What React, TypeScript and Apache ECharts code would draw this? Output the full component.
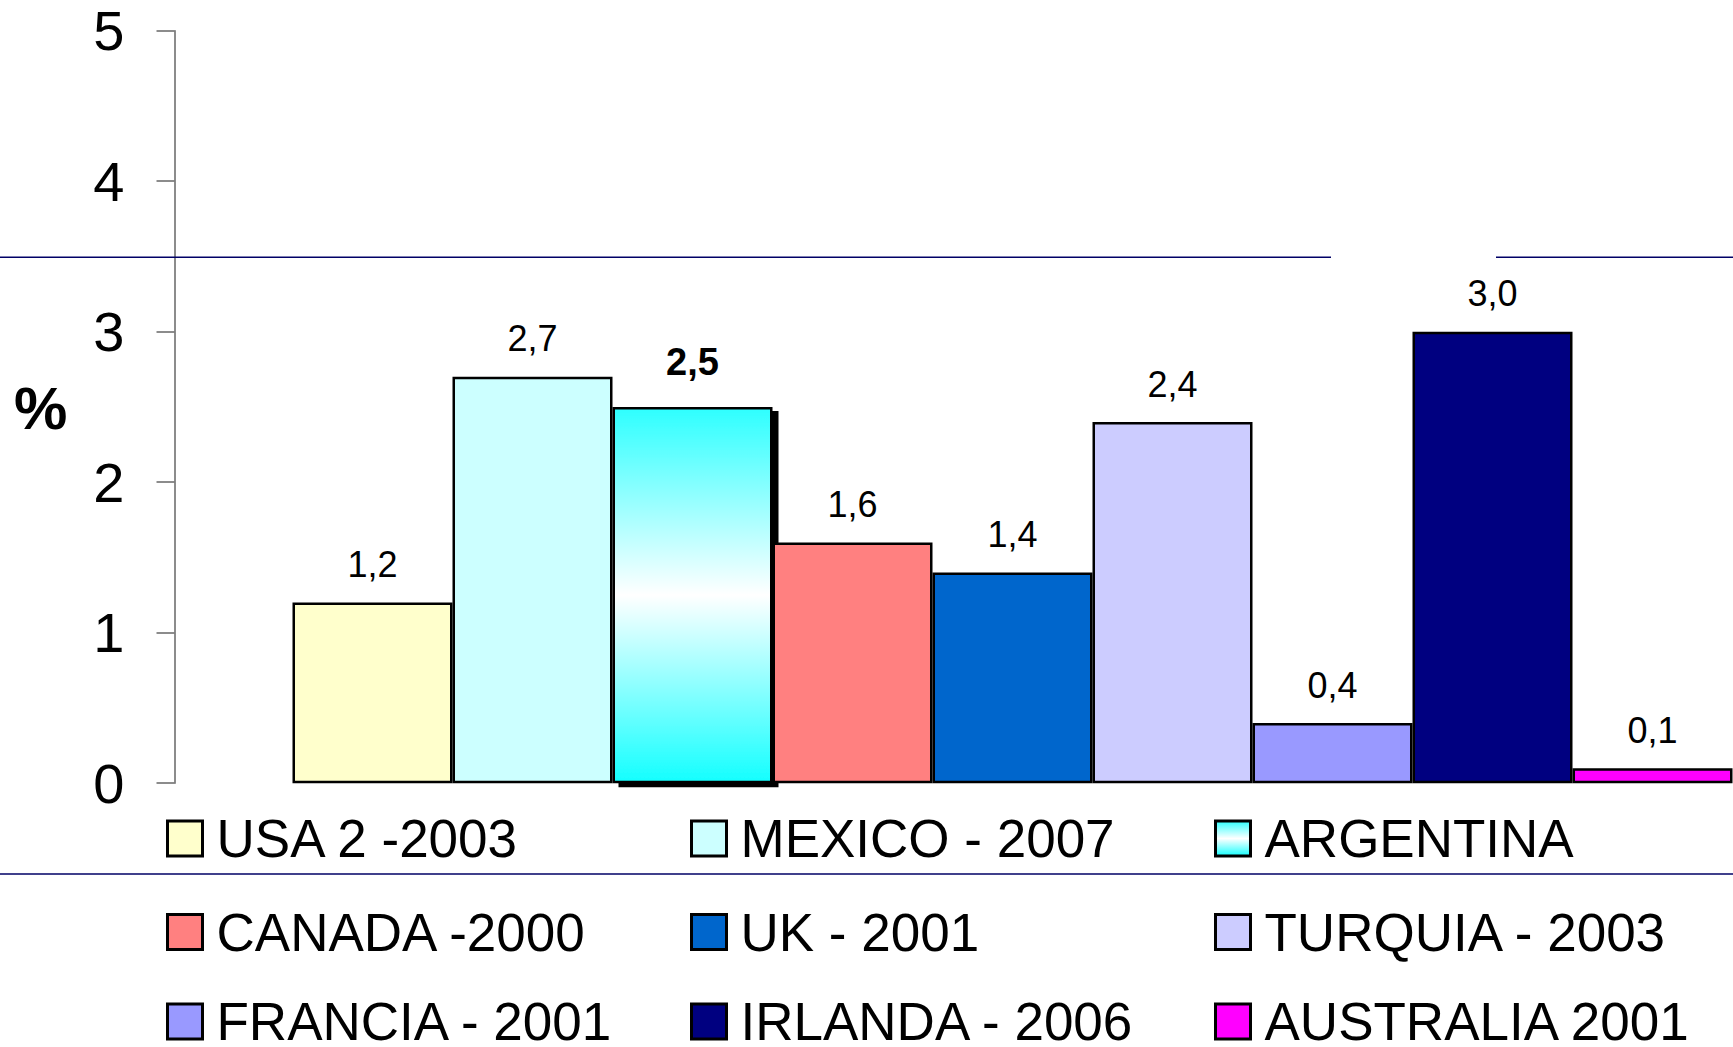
import React, { useEffect, useRef } from "react";
import * as echarts from "echarts";

const seriesNames = [
  "USA 2 -2003",
  "MEXICO - 2007",
  "ARGENTINA",
  "CANADA -2000",
  "UK - 2001",
  "TURQUIA - 2003",
  "FRANCIA - 2001",
  "IRLANDA - 2006",
  "AUSTRALIA 2001",
];
const seriesValues = [1.2, 2.7, 2.5, 1.6, 1.4, 2.4, 0.4, 3.0, 0.1];
const categories = ["Total"];
const yTicks = [0, 1, 2, 3, 4, 5];

const legendColumns = [
  ["USA 2 -2003", "CANADA -2000", "FRANCIA - 2001"],
  ["MEXICO - 2007", "UK - 2001", "IRLANDA - 2006"],
  ["ARGENTINA", "TURQUIA - 2003", "AUSTRALIA 2001"],
];

const argGradient = new echarts.graphic.LinearGradient(0, 0, 0, 1, [
  { offset: 0, color: "#2EFFFF" },
  { offset: 0.5, color: "#FFFFFF" },
  { offset: 1, color: "#14FFFF" },
]);

const colors: any[] = [
  "#FFFFCC",
  "#CCFFFF",
  argGradient,
  "#FF8080",
  "#0066CC",
  "#CCCCFF",
  "#9999FF",
  "#000080",
  "#FF00FF",
];

export default function App() {
  const ref = useRef<HTMLDivElement>(null);
  useEffect(() => {
    if (!ref.current) return;
    const chart = echarts.init(ref.current, null, { renderer: "svg" });
    const W = 1733;
    const axisX = 174.5;
    const gridLeft = 292;
    const gridTop = 30.7;
    const gridBottomY = 783.2;
    const barW = 160;

    const series = seriesNames.map((name, i) => {
      const isArg = name === "ARGENTINA";
      return {
        name,
        type: "bar",
        data: [seriesValues[i]],
        barWidth: barW,
        barGap: "0%",
        itemStyle: {
          color: colors[i],
          borderColor: "#000",
          borderWidth: 2.5,
          ...(isArg
            ? {
                shadowColor: "#000",
                shadowBlur: 0,
                shadowOffsetX: 6,
                shadowOffsetY: 4,
              }
            : {}),
        },
        label: {
          show: true,
          position: "top",
          distance: isArg ? 26 : 20,
          fontSize: isArg ? 38 : 36,
          lineHeight: isArg ? 38 : 36,
          color: "#000",
          fontWeight: isArg ? "bold" : "normal",
          formatter: (p: any) => Number(p.value).toFixed(1).replace(".", ","),
        },
        z: 3,
      };
    });

    const colX = [166, 690, 1214];
    const rowTop = [812, 905.5, 995];
    const legends: any[] = [];
    legendColumns.forEach((col, ci) => {
      col.forEach((name, ri) => {
        legends.push({
          orient: "vertical",
          left: colX[ci],
          top: rowTop[ri],
          height: 200,
          padding: 0,
          itemWidth: 35,
          itemHeight: 35,
          itemGap: 0,
          icon: "rect",
          data: [name],
          selectedMode: false,
          itemStyle: {
            borderColor: "#000",
            borderWidth: 3,
            shadowBlur: 0,
            shadowOffsetX: 0,
            shadowOffsetY: 0,
            shadowColor: "rgba(0,0,0,0)",
          },
          textStyle: {
            fontSize: 53,
            lineHeight: 40,
            color: "#000",
            fontFamily: "Liberation Sans",
            padding: [0, 0, 0, 9],
          },
        });
      });
    });

    chart.setOption({
      animation: false,
      backgroundColor: "#fff",
      textStyle: { fontFamily: "Liberation Sans" },
      grid: {
        left: gridLeft,
        top: gridTop,
        right: 0,
        height: gridBottomY - gridTop,
        containLabel: false,
      },
      xAxis: {
        type: "category",
        data: categories,
        show: false,
      },
      yAxis: {
        type: "value",
        min: yTicks[0],
        max: yTicks[yTicks.length - 1],
        interval: 1,
        offset: gridLeft - axisX,
        splitLine: { show: false },
        axisLine: { show: true, lineStyle: { color: "#666", width: 1.5 } },
        axisTick: { show: true, length: 18, lineStyle: { color: "#666", width: 1.5 } },
        axisLabel: {
          fontSize: 56,
          color: "#000",
          margin: 50,
          fontFamily: "Liberation Sans",
        },
      },
      legend: legends,
      series,
      graphic: [
        {
          type: "line",
          shape: { x1: 0, y1: 257.3, x2: 1331, y2: 257.3 },
          style: { stroke: "#000066", lineWidth: 1.5 },
          z: 1,
        },
        {
          type: "line",
          shape: { x1: 1496, y1: 257.3, x2: W, y2: 257.3 },
          style: { stroke: "#000066", lineWidth: 1.5 },
          z: 1,
        },
        {
          type: "line",
          shape: { x1: 0, y1: 874, x2: W, y2: 874 },
          style: { stroke: "#000066", lineWidth: 1.5 },
          z: 1,
        },
        {
          type: "text",
          left: 14,
          top: 378,
          style: {
            text: "%",
            fontSize: 60,
            fontWeight: "bold",
            fill: "#000",
            fontFamily: "Liberation Sans",
          },
        },
      ],
    });
    return () => chart.dispose();
  }, []);
  return (
    <div
      ref={ref}
      style={{ position: "absolute", left: 0, top: 0, width: 1733, height: 1047 }}
    />
  );
}
